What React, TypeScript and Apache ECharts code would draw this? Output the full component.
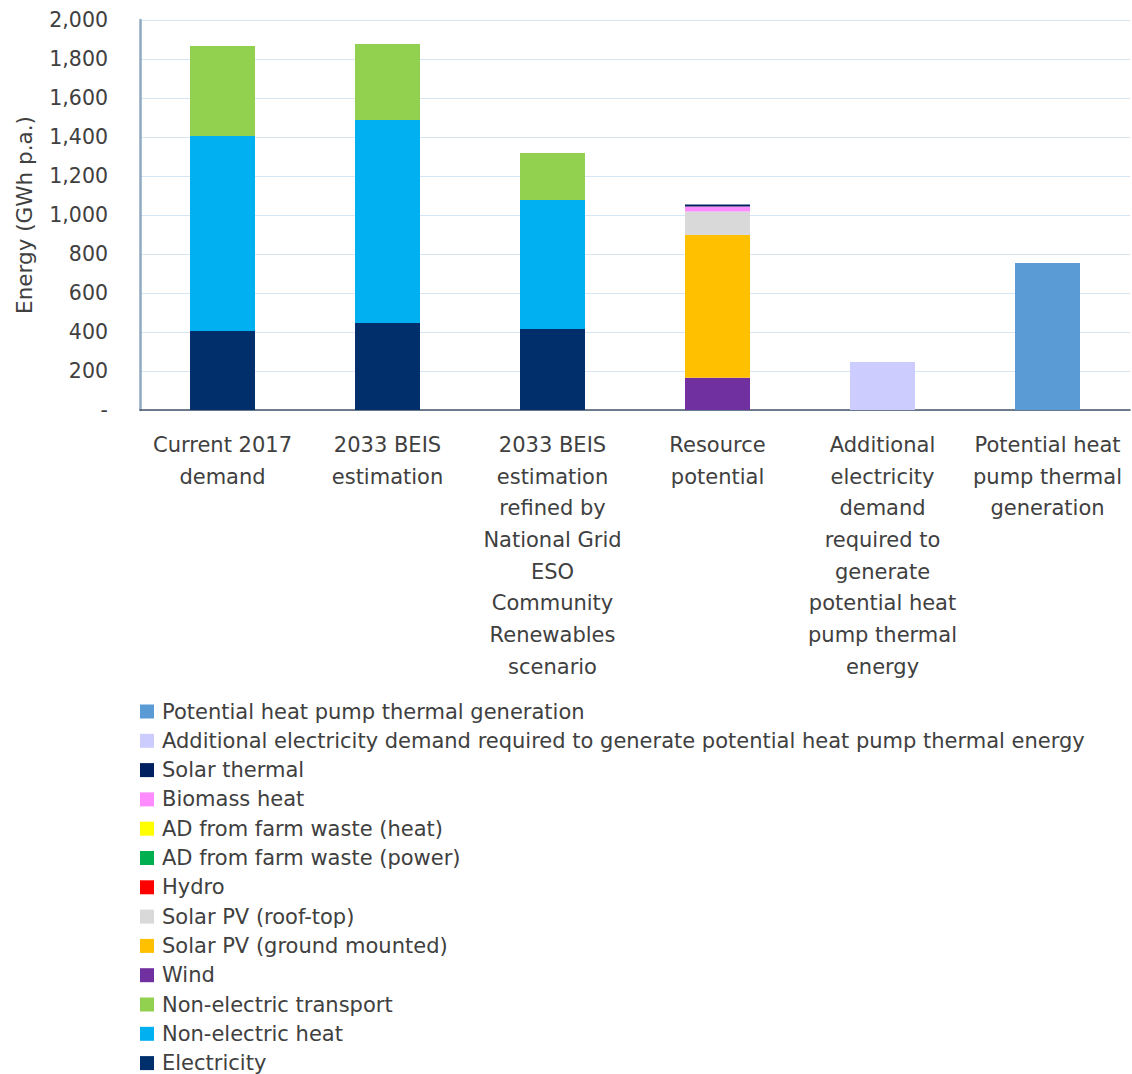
import React, { useEffect, useRef } from "react";
import * as echarts from "echarts";

const categories = [
  "Current 2017\ndemand",
  "2033 BEIS\nestimation",
  "2033 BEIS\nestimation\nrefined by\nNational Grid\nESO\nCommunity\nRenewables\nscenario",
  "Resource\npotential",
  "Additional\nelectricity\ndemand\nrequired to\ngenerate\npotential heat\npump thermal\nenergy",
  "Potential heat\npump thermal\ngeneration",
];

const electricity = [405, 446, 415, null, null, null];
const nonElectricHeat = [1000, 1041, 662, null, null, null];
const nonElectricTransport = [462, 390, 241, null, null, null];
const wind = [null, null, null, 166, null, null];
const solarPvGround = [null, null, null, 732, null, null];
const solarPvRoof = [null, null, null, 120, null, null];
const hydro = [null, null, null, 0, null, null];
const adPower = [null, null, null, 0, null, null];
const adHeat = [null, null, null, 0, null, null];
const biomassHeat = [null, null, null, 26, null, null];
const solarThermal = [null, null, null, 10, null, null];
const additionalElectricity = [null, null, null, null, 246, null];
const potentialHeatPump = [null, null, null, null, null, 754];

const seriesNames = [
  "Electricity",
  "Non-electric heat",
  "Non-electric transport",
  "Wind",
  "Solar PV (ground mounted)",
  "Solar PV (roof-top)",
  "Hydro",
  "AD from farm waste (power)",
  "AD from farm waste (heat)",
  "Biomass heat",
  "Solar thermal",
  "Additional electricity demand required to generate potential heat pump thermal energy",
  "Potential heat pump thermal generation",
];
const seriesData = [
  electricity,
  nonElectricHeat,
  nonElectricTransport,
  wind,
  solarPvGround,
  solarPvRoof,
  hydro,
  adPower,
  adHeat,
  biomassHeat,
  solarThermal,
  additionalElectricity,
  potentialHeatPump,
];
const seriesColors = [
  "#002F6C",
  "#00B0F0",
  "#92D050",
  "#7030A0",
  "#FFC000",
  "#D9D9D9",
  "#FF0000",
  "#00B050",
  "#FFFF00",
  "#FF8CFF",
  "#002060",
  "#CCCCFF",
  "#5B9BD5",
];

const FONT = "DejaVu Sans";

export default function App() {
  const ref = useRef<HTMLDivElement>(null);
  useEffect(() => {
    document.body.style.margin = "0";
    const chart = echarts.init(ref.current!, null, { renderer: "svg" });
    chart.setOption({
      animation: false,
      textStyle: { fontFamily: FONT },
      grid: { left: 140, right: 2, top: 20, bottom: 664, containLabel: false },
      legend: {
        orient: "vertical",
        left: 140,
        top: 701,
        height: 420,
        padding: 0,
        itemWidth: 14,
        itemHeight: 14,
        itemGap: 8.3,
        icon: "rect",
        data: [...seriesNames].reverse(),
        textStyle: {
          fontFamily: FONT,
          fontSize: 21,
          color: "#404040",
          padding: [0, 0, 0, 3],
        },
        selectedMode: false,
      },
      xAxis: {
        type: "category",
        data: categories,
        axisTick: { show: false },
        axisLine: { lineStyle: { color: "#44546A", width: 1.5 } },
        axisLabel: {
          interval: 0,
          fontFamily: FONT,
          fontSize: 21,
          lineHeight: 31.7,
          color: "#404040",
          margin: 19,
          verticalAlign: "top",
        },
      },
      yAxis: {
        type: "value",
        min: 0,
        max: 2000,
        interval: 200,
        name: "Energy (GWh p.a.)",
        nameLocation: "middle",
        nameGap: 105,
        nameTextStyle: { fontFamily: FONT, fontSize: 21.5, color: "#404040" },
        axisLine: { show: true, lineStyle: { color: "#8EA9C1", width: 2.5 } },
        axisTick: { show: false },
        splitLine: { lineStyle: { color: "#D6E6F5", width: 1 } },
        axisLabel: {
          fontFamily: FONT,
          fontSize: 20.5,
          color: "#404040",
          margin: 32,
          formatter: (v: number) => (v === 0 ? "-" : v.toLocaleString("en-US")),
        },
      },
      series: seriesNames.map((name, i) => ({
        name,
        type: "bar",
        stack: "total",
        barWidth: 65,
        data: seriesData[i],
        itemStyle: { color: seriesColors[i] },
      })),
    });
    return () => chart.dispose();
  }, []);
  return <div ref={ref} style={{ width: 1132, height: 1074 }} />;
}
